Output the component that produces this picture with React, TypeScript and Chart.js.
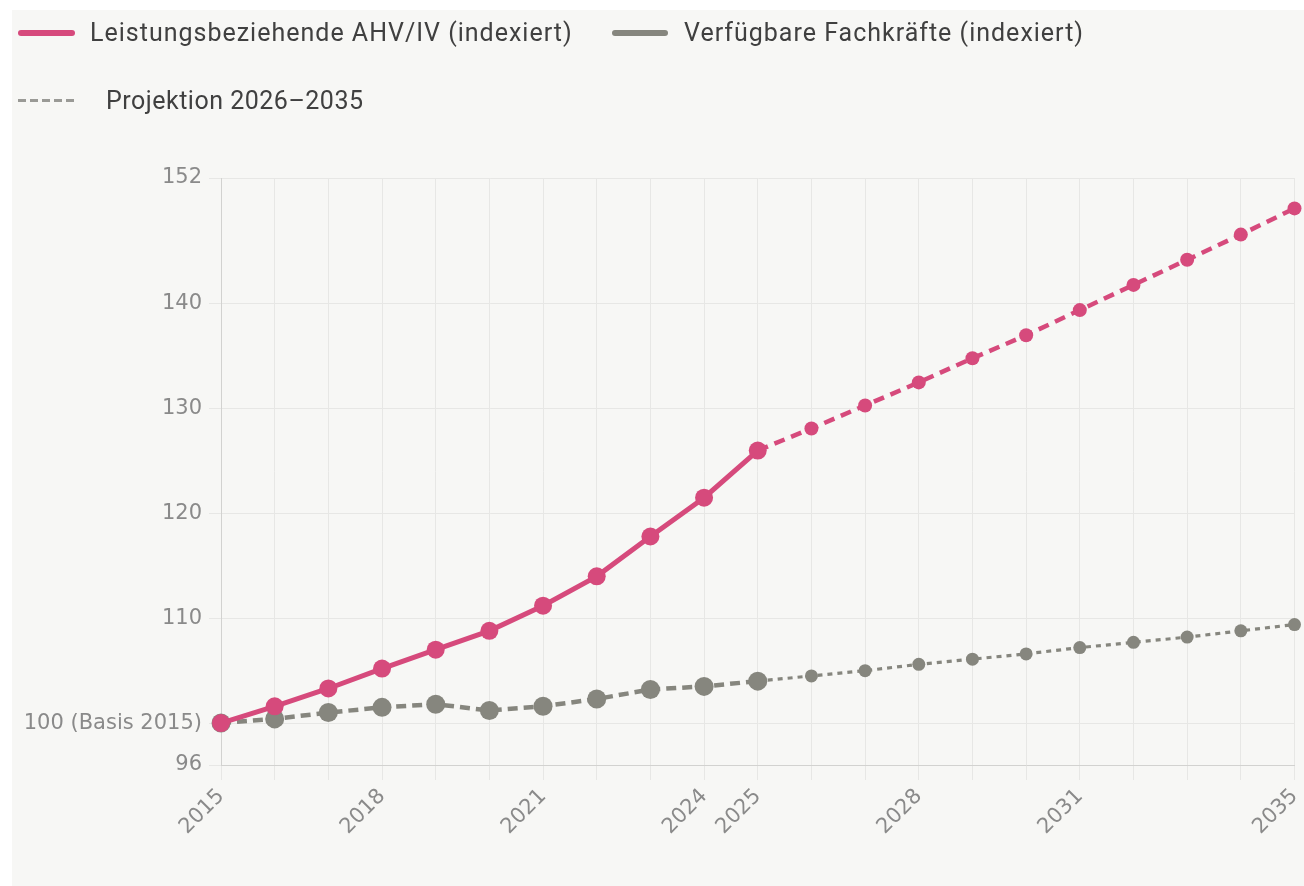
import React, { useEffect, useRef } from "react";
import { Chart, registerables } from "chart.js";

Chart.register(...registerables);

const years = [
  "2015", "2016", "2017", "2018", "2019", "2020", "2021", "2022", "2023", "2024", "2025",
  "2026", "2027", "2028", "2029", "2030", "2031", "2032", "2033", "2034", "2035",
];
const shownYearLabels = ["2015", "2018", "2021", "2024", "2025", "2028", "2031", "2035"];
const ahvIndex = [
  100, 101.6, 103.3, 105.2, 107.0, 108.8, 111.2, 114.0, 117.8, 121.5, 126.0,
  128.1, 130.3, 132.5, 134.8, 137.0, 139.4, 141.8, 144.2, 146.6, 149.1,
];
const fachkraefteIndex = [
  100, 100.4, 101.0, 101.5, 101.8, 101.2, 101.6, 102.3, 103.2, 103.5, 104.0,
  104.5, 105.0, 105.6, 106.1, 106.6, 107.2, 107.7, 108.2, 108.8, 109.4,
];
const yTickValues = [96, 100, 110, 120, 130, 140, 152];
const baseLabel = "100 (Basis 2015)";
const projectionStartIndex = 10;
const legendNames = [
  "Leistungsbeziehende AHV/IV (indexiert)",
  "Verfügbare Fachkräfte (indexiert)",
  "Projektion 2026–2035",
];

const PINK = "#d64a7c";
const GREY = "#86867e";
const BG = "#f7f7f5";
const TICK = "#8a8a8a";
const GRID = "#e7e7e5";

export default function App() {
  const canvasRef = useRef<HTMLCanvasElement | null>(null);

  useEffect(() => {
    const canvas = canvasRef.current;
    if (!canvas) return;
    const tickFont = { family: "'DejaVu Sans', sans-serif", size: 21 };
    const chart = new Chart(canvas, {
      type: "line",
      data: {
        labels: years,
        datasets: [
          {
            label: legendNames[0],
            data: ahvIndex,
            borderColor: PINK,
            backgroundColor: PINK,
            borderWidth: 5,
            pointRadius: (ctx: any) => (ctx.dataIndex <= projectionStartIndex ? 9 : 7),
            pointBorderWidth: 0,
            pointHoverRadius: 9,
            tension: 0,
            clip: false as any,
            segment: {
              borderDash: (ctx: any) => (ctx.p0DataIndex >= projectionStartIndex ? [11, 7] : []),
              borderWidth: (ctx: any) => (ctx.p0DataIndex >= projectionStartIndex ? 4.5 : 5),
            },
          },
          {
            label: legendNames[1],
            data: fachkraefteIndex,
            borderColor: GREY,
            backgroundColor: GREY,
            borderWidth: 4,
            pointRadius: (ctx: any) => (ctx.dataIndex <= projectionStartIndex ? 9.5 : 6.5),
            pointBorderWidth: 0,
            pointHoverRadius: 9,
            tension: 0,
            clip: false as any,
            segment: {
              borderDash: (ctx: any) => (ctx.p0DataIndex >= projectionStartIndex ? [5, 5] : [10, 6]),
              borderWidth: (ctx: any) => (ctx.p0DataIndex >= projectionStartIndex ? 3.2 : 4.5),
            },
          },
        ],
      },
      options: {
        animation: false,
        responsive: false,
        devicePixelRatio: 1,
        layout: { padding: { top: 168, right: 7, left: 0, bottom: 0 } },
        plugins: {
          legend: { display: false },
          tooltip: { enabled: false },
        },
        scales: {
          x: {
            type: "category",
            grid: { color: GRID, tickLength: 15, tickColor: GRID },
            border: { color: "#d2d2d0" },
            ticks: {
              autoSkip: false,
              maxRotation: 45,
              minRotation: 45,
              color: TICK,
              font: tickFont,
              padding: 4,
              callback: (_v: any, i: number) =>
                shownYearLabels.includes(years[i]) ? years[i] : "",
            },
            afterFit: (s: any) => {
              s.height = 121;
              s.paddingLeft = 0;
              s.paddingRight = 0;
            },
          },
          y: {
            min: 96,
            max: 152,
            grid: { color: GRID, tickLength: 12, tickColor: GRID },
            border: { color: "#d2d2d0" },
            afterBuildTicks: (s: any) => {
              s.ticks = yTickValues.map((v) => ({ value: v }));
            },
            ticks: {
              color: TICK,
              font: tickFont,
              padding: 7,
              callback: (v: any) => (Number(v) === 100 ? baseLabel : String(v)),
            },
            afterFit: (s: any) => {
              s.width = 209;
            },
          },
        },
      },
    });
    return () => chart.destroy();
  }, []);

  const legendText: React.CSSProperties = {
    position: "absolute",
    fontFamily: "Roboto, sans-serif",
    fontSize: 25,
    letterSpacing: "1px",
    color: "#404040",
    lineHeight: "28px",
    whiteSpace: "nowrap",
  };

  return (
    <div
      style={{
        position: "fixed",
        left: 12,
        top: 10,
        right: 0,
        bottom: 0,
        background: BG,
        overflow: "hidden",
      }}
    >
      <canvas ref={canvasRef} width={1292} height={876} style={{ position: "absolute", left: 0, top: 0 }} />
      <div style={{ position: "absolute", left: 6, top: 20, width: 57, height: 6, borderRadius: 3, background: PINK }} />
      <div style={{ ...legendText, left: 78, top: 9 }}>{legendNames[0]}</div>
      <div style={{ position: "absolute", left: 600, top: 20, width: 56, height: 6, borderRadius: 3, background: GREY }} />
      <div style={{ ...legendText, left: 672, top: 9 }}>{legendNames[1]}</div>
      <div
        style={{
          position: "absolute",
          left: 6,
          top: 89,
          width: 57,
          height: 3,
          background: "repeating-linear-gradient(90deg, #9a9a96 0 8px, transparent 8px 12px)",
        }}
      />
      <div style={{ ...legendText, left: 94, top: 77, letterSpacing: "0.5px" }}>{legendNames[2]}</div>
    </div>
  );
}
